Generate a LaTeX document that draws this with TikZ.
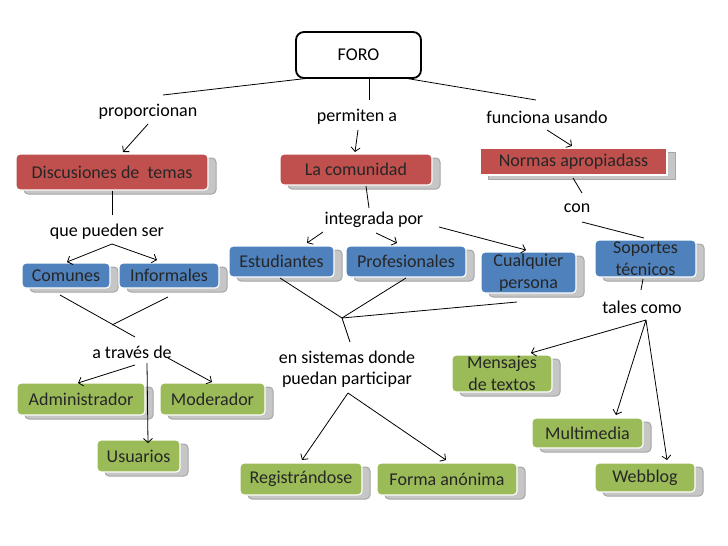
\documentclass[tikz,border=0pt]{standalone}
\usepackage{fontspec}
\setmainfont{Carlito}
\usetikzlibrary{shadows,arrows.meta}

\definecolor{rojo}{RGB}{192,80,77}
\definecolor{azul}{RGB}{79,129,189}
\definecolor{verde}{RGB}{155,187,89}

\tikzset{
  caja/.style={rounded corners=4pt, draw=white, line width=1.2pt, fill=#1,
    text=black!85, align=center, inner sep=0pt,
    general shadow={fill=gray!45, draw=gray!70, line width=1pt,
      shadow xshift=8pt, shadow yshift=-4pt}},
  cuadro/.style={caja=#1, rounded corners=0pt},
  enlace/.style={align=center, inner sep=0pt},
}

\begin{document}
\begin{tikzpicture}[x=1pt, y=-1pt, line width=0.8pt,
    >={Straight Barb[length=4pt,width=9pt]},
    every node/.style={font=\fontsize{18pt}{21.5pt}\selectfont}]

    \useasboundingbox (0,0) rectangle (728,546);

    \node[draw, line width=1.8pt, rounded corners=8pt, fill=white,
      minimum width=125pt, minimum height=46pt] (foro) at (358.5,55) {FORO};

    \node[enlace] (prop) at (148,112) {proporcionan};
    \node[enlace] (perm) at (357,117) {permiten a};
    \node[enlace] (func) at (547,117) {funciona usando};

    \node[caja=rojo, minimum width=192pt, minimum height=36pt] (disc) at (112,172) {Discusiones de\ \ temas};
    \node[caja=rojo, minimum width=152pt, minimum height=31pt] (comu) at (356,169.5) {La comunidad};
    \node[cuadro=rojo, minimum width=187pt, minimum height=27pt] (norm) at (573.5,161.5) {Normas apropiadass};

    \node[enlace] (que) at (107,232) {que pueden ser};
    \node[enlace] (integ) at (374,220) {integrada por};
    \node[enlace] (con) at (577,208) {con};

    \node[caja=azul, minimum width=88pt, minimum height=25pt] (comun) at (66,275.5) {Comunes};
    \node[caja=azul, minimum width=100pt, minimum height=25pt] (infor) at (169,275.5) {Informales};
    \node[caja=azul, minimum width=105pt, minimum height=31pt] (estud) at (281.5,261.5) {Estudiantes};
    \node[caja=azul, minimum width=120pt, minimum height=31pt] (profe) at (406,261.5) {Profesionales};
    \node[caja=azul, minimum width=95pt, minimum height=41pt] (cualq) at (528.5,272.5) {Cualquier\\persona};
    \node[caja=azul, minimum width=101pt, minimum height=37pt] (sopor) at (645.5,258.5) {Soportes\\técnicos};

    \node[enlace] (tales) at (642,307) {tales como};
    \node[enlace] (atrav) at (132,352) {a través de};
    \node[enlace] (siste) at (347,369) {en sistemas donde\\puedan participar};

    \node[caja=verde, minimum width=128pt, minimum height=32pt] (admin) at (81,399) {Administrador};
    \node[caja=verde, minimum width=105pt, minimum height=32pt] (moder) at (212.5,399) {Moderador};
    \node[caja=verde, minimum width=83pt, minimum height=32pt] (usua) at (138.5,456) {Usuarios};
    \node[caja=verde, minimum width=122pt, minimum height=32pt] (regis) at (301,479) {Registrándose};
    \node[caja=verde, minimum width=140pt, minimum height=32pt] (forma) at (447,479) {Forma anónima};
    \node[caja=verde, minimum width=100pt, minimum height=37pt] (mensa) at (502,373.5) {Mensajes\\de textos};
    \node[caja=verde, minimum width=111pt, minimum height=30pt] (multi) at (587.5,433) {Multimedia};
    \node[caja=verde, minimum width=100pt, minimum height=29pt] (webbl) at (645,477.5) {Webblog};

    \coordinate (foroA) at (310,78);
    \coordinate (foroB) at (369,78);
    \coordinate (foroC) at (404,78);
    \coordinate (propT) at (163,95);
    \coordinate (propB) at (148,124);
    \coordinate (permT) at (369,100);
    \coordinate (permB) at (358,130);
    \coordinate (funcT) at (536,100);
    \coordinate (funcB) at (547,130);
    \coordinate (discT) at (123,152);
    \coordinate (comuT) at (355,152);
    \coordinate (comuB) at (366,186);
    \coordinate (normT) at (572,146);
    \coordinate (normB) at (573,178);
    \coordinate (queT) at (112,215);
    \coordinate (queB) at (112,244);
    \coordinate (integT) at (369,208);
    \coordinate (integL) at (323,232);
    \coordinate (integM) at (376,233);
    \coordinate (integR) at (439,227);
    \coordinate (conT) at (582,193);
    \coordinate (conB) at (582,222);
    \coordinate (soporT) at (644,238);
    \coordinate (soporB) at (643,279);
    \coordinate (talesT) at (641,290);
    \coordinate (talesB) at (646,320);
    \coordinate (comunT) at (67,262);
    \coordinate (comunB) at (60,295);
    \coordinate (inforT) at (157,260);
    \coordinate (inforB) at (168,297);
    \coordinate (jA) at (112,325);
    \coordinate (atravT) at (135,337);
    \coordinate (atravL) at (135,365);
    \coordinate (atravR) at (168,358);
    \coordinate (atravM) at (147,363);
    \coordinate (adminT) at (78,383);
    \coordinate (moderT) at (212,382);
    \coordinate (usuaT) at (148,443);
    \coordinate (estudT) at (307,243);
    \coordinate (estudB) at (280,278);
    \coordinate (profeT) at (397,243);
    \coordinate (profeB) at (406,278);
    \coordinate (cualqT) at (526,250);
    \coordinate (cualqB) at (517,302);
    \coordinate (jB) at (342,318);
    \coordinate (sisteT) at (350,342);
    \coordinate (sisteB) at (348,393);
    \coordinate (regisT) at (302,460);
    \coordinate (formaT) at (446,460);
    \coordinate (mensaT) at (531,353);
    \coordinate (multiT) at (616,415);
    \coordinate (webblT) at (667,460);

    \draw[-] (foroA) -- (propT);
    \draw[-] (foroB) -- (permT);
    \draw[-] (foroC) -- (funcT);
    \draw[->] (propB) -- (discT);
    \draw[->] (permB) -- (comuT);
    \draw[->] (funcB) -- (normT);

    \draw[-] (disc.south) -- (queT);
    \draw[-] (comuB) -- (integT);
    \draw[-] (normB) -- (conT);

    \draw[->] (queB) -- (comunT);
    \draw[->] (queB) -- (inforT);
    \draw[->] (integL) -- (estudT);
    \draw[->] (integM) -- (profeT);
    \draw[->] (integR) -- (cualqT);
    \draw[-] (conB) -- (soporT);
    \draw[-] (soporB) -- (talesT);

    \draw[-] (comunB) -- (atravT);
    \draw[-] (inforB) -- (jA);
    \draw[->] (atravL) -- (adminT);
    \draw[->] (atravR) -- (moderT);
    \draw[->] (atravM) -- (usuaT);

    \draw[-] (estudB) -- (jB);
    \draw[-] (profeB) -- (jB);
    \draw[-] (cualqB) -- (jB);
    \draw[-] (jB) -- (sisteT);
    \draw[->] (sisteB) -- (regisT);
    \draw[->] (sisteB) -- (formaT);

    \draw[->] (talesB) -- (mensaT);
    \draw[->] (talesB) -- (multiT);
    \draw[->] (talesB) -- (webblT);

\end{tikzpicture}
\end{document}
